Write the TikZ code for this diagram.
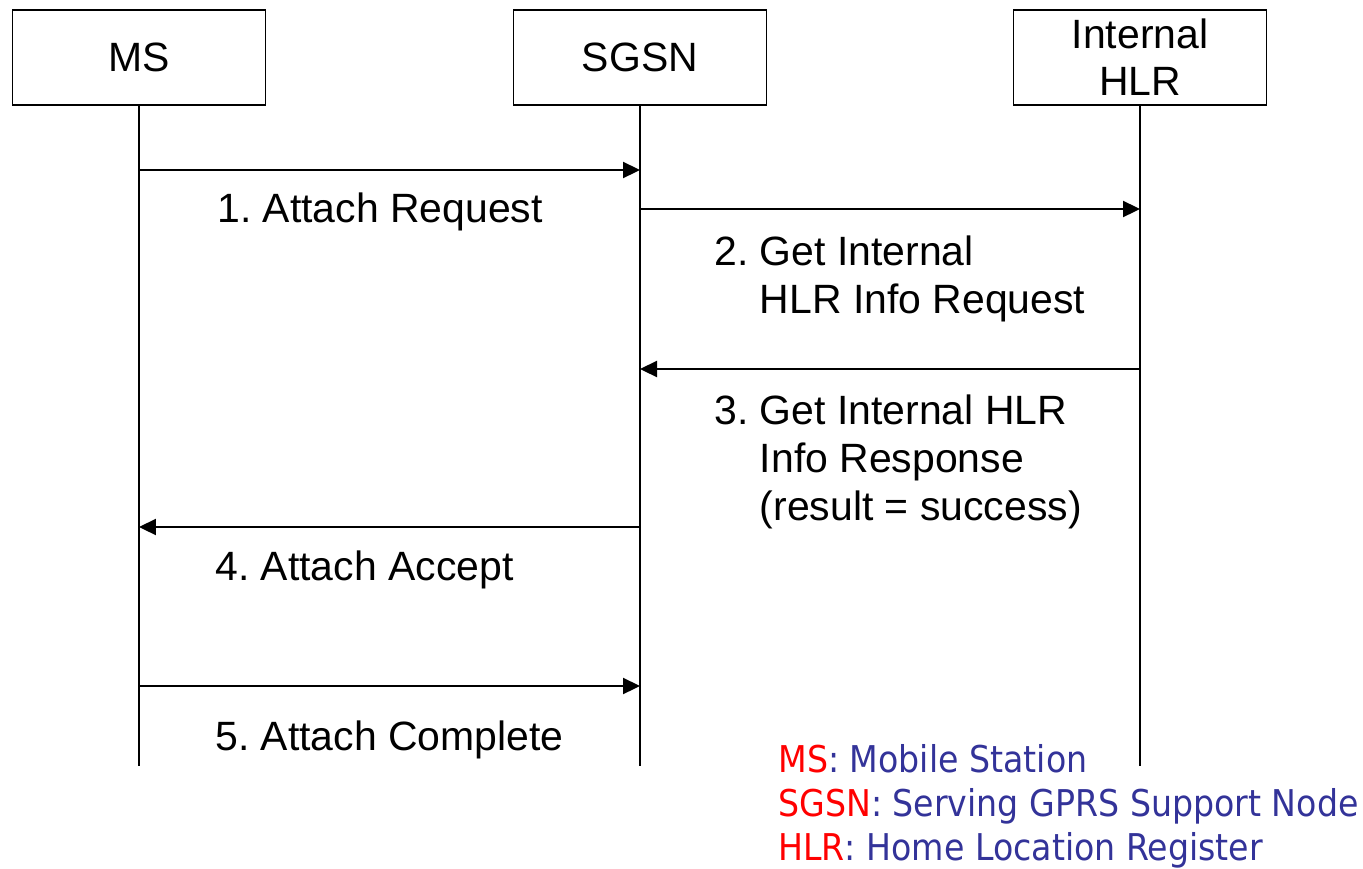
\documentclass[tikz,border=0pt]{standalone}
\usepackage{fontspec}
\setmainfont{Liberation Sans}
\newfontfamily\legendfont[FakeStretch=0.9]{DejaVu Sans}
\usetikzlibrary{arrows.meta,positioning}
\definecolor{abbrred}{RGB}{255,0,0}
\definecolor{abbrblue}{RGB}{51,51,153}
\frenchspacing
\tikzset{
  entity/.style={draw, line width=0.6pt, minimum width=5.05cm, minimum height=1.9cm, align=center, inner sep=0pt, font=\fontsize{23.3}{26.7}\selectfont},
  lifeline/.style={line width=1.3pt},
  msg/.style={line width=1.3pt, -{Triangle[length=0.34cm,width=0.32cm]}},
  msglabel/.style={anchor=base west, align=left, inner sep=0pt, font=\fontsize{23.3}{27.2}\selectfont},
  legend/.style={anchor=base west, inner sep=0pt, font=\legendfont\fontsize{21}{25}\selectfont}
}

\begin{document}
\begin{tikzpicture}[x=0.02cm, y=-0.02cm]
    \useasboundingbox (0,0) rectangle (1363,869);
    % entities
    \node[entity] (ms) at (139,57.5) {MS};
    \node[entity] (sgsn) at (640,57.5) {SGSN};
    \node[entity] (hlr) at (1140,57.5) {Internal\\HLR};
    % lifelines
    \coordinate (msend) at (139,766);
    \coordinate (sgsnend) at (640,766);
    \coordinate (hlrend) at (1140,766);
    \draw[lifeline] (ms.south) -- (msend);
    \draw[lifeline] (sgsn.south) -- (sgsnend);
    \draw[lifeline] (hlr.south) -- (hlrend);
    % messages (base anchor = last line)
    \draw[msg] (ms |- 0,170) -- (sgsn |- 0,170);
    \node[msglabel] (m1) at (217,222) {1. Attach Request};
    \draw[msg] (sgsn |- 0,209) -- (hlr |- 0,209);
    \node[msglabel] (m2) at (714,313) {2. Get Internal\\\phantom{2. }HLR Info Request};
    \draw[msg] (hlr |- 0,369) -- (sgsn |- 0,369);
    \node[msglabel] (m3) at (714,520) {3. Get Internal HLR\\\phantom{3. }Info Response\\\phantom{3. }(result = success)};
    \draw[msg] (sgsn |- 0,527) -- (ms |- 0,527);
    \node[msglabel] (m4) at (215,580) {4. Attach Accept};
    \draw[msg] (ms |- 0,686) -- (sgsn |- 0,686);
    \node[msglabel] (m5) at (215,750) {5. Attach Complete};
    % legend
    \node[legend] (legms) at (778,772) {\textcolor{abbrred}{MS}\textcolor{abbrblue}{: Mobile Station}};
    \node[legend] (legsgsn) at (778,816) {\textcolor{abbrred}{SGSN}\textcolor{abbrblue}{: Serving GPRS Support Node}};
    \node[legend] (leghlr) at (778,860) {\textcolor{abbrred}{HLR}\textcolor{abbrblue}{: Home Location Register}};
\end{tikzpicture}
\end{document}
